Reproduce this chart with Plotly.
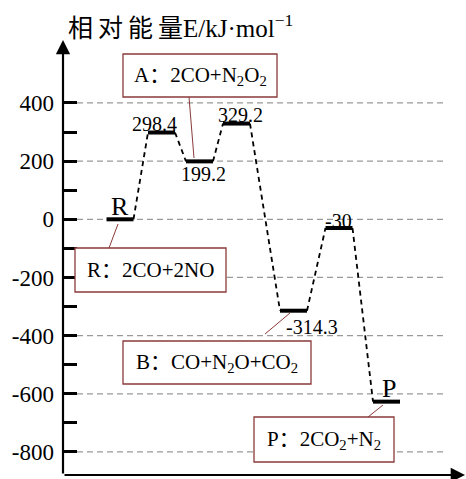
import plotly.graph_objects as go

# Energy profile of 2CO + 2NO -> 2CO2 + N2
states = ["R", "TS1", "A", "TS2", "B", "TS3", "P"]
energies = [0, 298.4, 199.2, 329.2, -314.3, -30, -627]
value_labels = ["", "298.4", "199.2", "329.2", "-314.3", "-30", ""]
tick_values = [-800, -700, -600, -500, -400, -300, -200, -100, 0, 100, 200, 300, 400]
grid_values = [-800, -600, -400, -200, 0, 200, 400]
box_texts = [
    "A：2CO+N<sub>2</sub>O<sub>2</sub>",
    "R：2CO+2NO",
    "B：CO+N<sub>2</sub>O+CO<sub>2</sub>",
    "P：2CO<sub>2</sub>+N<sub>2</sub>",
]
axis_title = "相\u2009对\u2009能\u2009量E/kJ·mol<sup>−1</sup>"

# ---- layout geometry (figure pixels) ----
W, H = 466, 479
ML, MT, MB = 63, 40, 4
PLOT_H = H - MT - MB
PLOT_W = W - ML
Y_ZERO_PX, PX_PER_UNIT = 219.3, 0.29083
Y_TOP = (Y_ZERO_PX - MT) / PX_PER_UNIT
Y_BOT = (Y_ZERO_PX - (H - MB)) / PX_PER_UNIT


def vy(p):
    """pixel row -> y data value"""
    return (Y_ZERO_PX - p) / PX_PER_UNIT


level_x = [120, 161.5, 199.5, 236.5, 293.5, 339, 386.5]
half_w = 13.5

SERIF = "Liberation Serif, Times New Roman, Noto Sans CJK SC, serif"
BOX_COLOR = "#8a3a3a"

fig = go.Figure()

# dashed connectors between consecutive levels
cx, cy = [], []
for i in range(len(energies) - 1):
    cx += [level_x[i] + half_w, level_x[i + 1] - half_w, None]
    cy += [energies[i], energies[i + 1], None]
fig.add_trace(go.Scatter(x=cx, y=cy, mode="lines",
                         line=dict(color="black", width=1.8, dash="5px,4px"),
                         hoverinfo="skip", showlegend=False))

# energy levels
lx, ly = [], []
for xc, e in zip(level_x, energies):
    lx += [xc - half_w, xc + half_w, None]
    ly += [e, e, None]
fig.add_trace(go.Scatter(x=lx, y=ly, mode="lines",
                         line=dict(color="black", width=4),
                         hoverinfo="skip", showlegend=False))

shapes = []
# dashed grid
for g in grid_values:
    shapes.append(dict(type="line", xref="x", yref="y", x0=77, x1=444, y0=g, y1=g,
                       line=dict(color="#9a9a9a", width=1.2, dash="6px,4px"), layer="below"))

# labelled boxes and leader lines
boxes = [(123, 54, 277, 97), (75, 248, 226, 292), (123, 341, 311, 384), (254, 417, 394, 462)]
leaders = [((189, 97), (194, 158)), ((109, 248), (118, 224)),
           ((265, 334), (290, 313)), ((368, 417), (383, 405))]
annotations = []
for (x0, y0, x1, y1), txt in zip(boxes, box_texts):
    shapes.append(dict(type="rect", xref="x", yref="y", x0=x0, x1=x1, y0=vy(y0), y1=vy(y1),
                       line=dict(color=BOX_COLOR, width=1.3), fillcolor="white"))
    annotations.append(dict(x=(x0 + x1) / 2, y=vy((y0 + y1) / 2), xref="x", yref="y",
                            text=txt, showarrow=False,
                            font=dict(family=SERIF, size=21, color="black")))
for (a, b) in leaders:
    shapes.append(dict(type="line", xref="x", yref="y", x0=a[0], y0=vy(a[1]), x1=b[0], y1=vy(b[1]),
                       line=dict(color=BOX_COLOR, width=1)))

# value labels next to levels
label_offsets = {1: (-7, 9), 2: (3.5, -13), 3: (3.5, 9), 4: (18.5, -16), 5: (-1, 7)}
for i, txt in enumerate(value_labels):
    if not txt:
        continue
    dx, dy = label_offsets[i]
    annotations.append(dict(x=level_x[i], y=energies[i], xref="x", yref="y", text=txt,
                            showarrow=False, xshift=dx, yshift=dy,
                            font=dict(family=SERIF, size=20, color="black")))

# state letters
annotations.append(dict(x=level_x[0], y=energies[0], text="R", showarrow=False,
                        yshift=13, font=dict(family=SERIF, size=26, color="black")))
annotations.append(dict(x=level_x[6], y=energies[6], text="P", showarrow=False,
                        xshift=2.5, yshift=13, font=dict(family=SERIF, size=26, color="black")))

# axes with arrowheads
annotations.append(dict(x=63, y=Y_TOP, ax=63, ay=Y_BOT, xref="x", yref="y", axref="x", ayref="y",
                        text="", showarrow=True, arrowhead=2, arrowsize=1.3, arrowwidth=2.2,
                        arrowcolor="black"))
annotations.append(dict(x=465, y=Y_BOT, ax=63, ay=Y_BOT, xref="x", yref="y", axref="x", ayref="y",
                        text="", showarrow=True, arrowhead=2, arrowsize=1.3, arrowwidth=2.2,
                        arrowcolor="black"))

# axis title above the plot
annotations.append(dict(x=(66 - ML) / PLOT_W, y=(H - MB - 26) / PLOT_H,
                        xref="paper", yref="paper", xanchor="left", yanchor="middle",
                        showarrow=False, text=axis_title,
                        font=dict(family=SERIF, size=25, color="black")))

fig.update_layout(
    width=W, height=H,
    margin=dict(l=ML, r=0, t=MT, b=MB),
    paper_bgcolor="white", plot_bgcolor="white",
    xaxis=dict(range=[63, 466], visible=False, fixedrange=True),
    yaxis=dict(range=[Y_BOT, Y_TOP], showgrid=False, zeroline=False, showline=False,
               tickvals=tick_values,
               ticktext=[str(v) if v % 200 == 0 else "" for v in tick_values],
               ticks="inside", ticklen=14, tickwidth=3, tickcolor="black",
               ticklabelstandoff=8,
               tickfont=dict(family=SERIF, size=23, color="black")),
    shapes=shapes,
    annotations=annotations,
    showlegend=False,
)

fig.write_html("out.html")
